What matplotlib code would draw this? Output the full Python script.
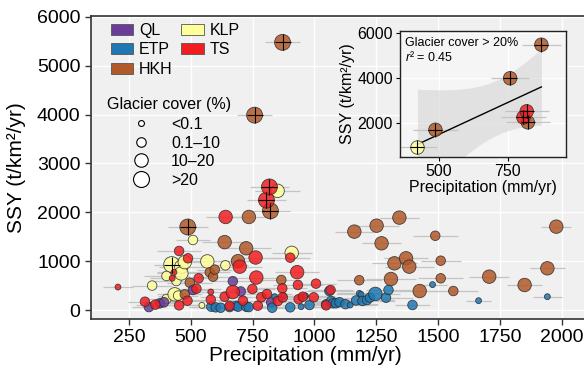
import numpy as np
import matplotlib
matplotlib.use("Agg")
import matplotlib.pyplot as plt
from matplotlib.patches import Patch
from matplotlib.lines import Line2D

plt.rcParams['font.family'] = ['Liberation Sans', 'DejaVu Sans']
plt.rcParams['mathtext.fontset'] = 'custom'
plt.rcParams['mathtext.rm'] = 'Liberation Sans'
plt.rcParams['mathtext.it'] = 'Liberation Sans:italic'

# glacier cover class: 0 <0.1, 1 0.1-10, 2 10-20, 3 >20
ql_precip = [331, 375, 392, 509, 670, 702, 825]
ql_ssy = [60, 137, 160, 410, 590, 380, 158]
ql_cover = [1, 1, 1, 1, 1, 1, 1]
ql_err = [70, 60, 80, 60, 90, 70, 60]

etp_precip = [583, 601, 621, 657, 684, 691, 724, 734, 829, 839, 875, 902, 946, 950, 964,
              980, 1047, 1060, 1067, 1074, 1087, 1101, 1125, 1144, 1168, 1181, 1188, 1194,
              1212, 1224, 1246, 1289, 1299, 1396, 1477, 1663, 1941]
etp_ssy = [68, 55, 47, 60, 88, 68, 68, 60, 47, 273, 290, 55, 68, 273, 287,
           102, 117, 389, 184, 137, 137, 160, 120, 102, 195, 342, 321, 185,
           205, 255, 330, 252, 410, 102, 520, 191, 273]
etp_cover = [1, 1, 1, 1, 1, 1, 1, 1, 1, 0, 0, 1, 0, 0, 0,
             1, 1, 1, 1, 1, 1, 1, 1, 0, 1, 0, 0, 1,
             1, 1, 2, 1, 1, 1, 0, 0, 0]
etp_err = [90, 100, 80, 110, 90, 100, 120, 90, 100, 80, 90, 110, 100, 90, 120,
           110, 120, 100, 130, 110, 120, 100, 130, 110, 120, 90, 100, 130,
           110, 120, 100, 110, 90, 70, 60, 50, 60]

ts_precip = [206, 315, 357, 425, 432, 453, 453, 487, 489, 523, 532, 581, 581, 637, 641,
             657, 670, 698, 711, 749, 762, 765, 771, 785, 806, 808, 818, 852, 870, 872,
             902, 930, 933, 936, 953, 997, 1006, 1047, 1065]
ts_ssy = [470, 170, 110, 650, 772, 1209, 95, 190, 1059, 437, 649, 212, 370, 273, 1905,
          85, 368, 888, 191, 430, 1075, 665, 88, 262, 2250, 328, 2520, 184, 444, 260,
          1072, 775, 512, 222, 273, 260, 540, 95, 410]
ts_cover = [0, 1, 1, 0, 0, 1, 1, 1, 1, 1, 1, 1, 0, 1, 2,
            1, 2, 2, 1, 1, 2, 2, 1, 1, 3, 1, 3, 1, 1, 1,
            1, 2, 1, 1, 1, 1, 1, 1, 1]
ts_err = [60, 70, 80, 90, 70, 90, 80, 70, 90, 100, 80, 90, 70, 100, 80,
          90, 100, 90, 100, 90, 100, 90, 80, 90, 80, 100, 80, 90, 100, 90,
          80, 90, 100, 90, 100, 90, 80, 100, 90]

hkh_precip = [488, 758, 871, 822, 476, 496, 577, 590, 597, 637, 691, 724, 735, 866, 1161,
              1181, 1251, 1271, 1309, 1323, 1343, 1370, 1383, 1425, 1488, 1510, 1510, 1561,
              1706, 1849, 1941, 1977]
hkh_ssy = [1700, 3990, 5480, 2030, 321, 560, 772, 683, 827, 1390, 1000, 1264, 1905, 615, 1605,
           610, 1727, 1366, 635, 956, 1892, 1059, 888, 389, 1520, 1010, 649, 389,
           683, 512, 854, 1707]
hkh_cover = [3, 3, 3, 3, 1, 1, 1, 1, 1, 2, 2, 2, 2, 1, 2,
             1, 2, 2, 2, 2, 2, 2, 2, 2, 1, 1, 1, 1,
             2, 2, 2, 2]
hkh_err = [80, 70, 70, 80, 70, 90, 80, 90, 70, 90, 80, 100, 90, 80, 80,
           90, 90, 80, 100, 90, 80, 90, 100, 110, 90, 80, 90, 100,
           80, 70, 70, 60]

klp_precip = [423, 344, 402, 402, 435, 442, 449, 462, 462, 476, 509, 545, 567, 640, 851, 908]
klp_ssy = [930, 500, 697, 225, 321, 594, 295, 888, 750, 980, 1434, 95, 995, 915, 2440, 1170]
klp_cover = [3, 1, 1, 1, 2, 1, 1, 2, 2, 2, 1, 0, 2, 1, 2, 2]
klp_err = [70, 80, 90, 80, 70, 90, 80, 90, 100, 80, 70, 60, 80, 90, 90, 80]

region_names = ['QL', 'ETP', 'HKH', 'KLP', 'TS']
region_colors = {'QL': '#6a3d9a', 'ETP': '#1f78b4', 'HKH': '#b15928',
                 'KLP': '#ffff99', 'TS': '#f21d21'}
cover_labels = ['<0.1', '0.1\u201310', '10\u201320', '>20']

regions = {
    'QL': (ql_precip, ql_ssy, ql_cover, ql_err),
    'ETP': (etp_precip, etp_ssy, etp_cover, etp_err),
    'HKH': (hkh_precip, hkh_ssy, hkh_cover, hkh_err),
    'KLP': (klp_precip, klp_ssy, klp_cover, klp_err),
    'TS': (ts_precip, ts_ssy, ts_cover, ts_err),
}
draw_order = ['KLP', 'HKH', 'QL', 'ETP', 'TS']

sizes_main = np.array([18, 47, 94, 132])
sizes_inset = np.array([14, 36, 70, 95])
panel_bg = '#f0f0f0'
err_col = '#c4c4c4'


def draw_points(a, sizes, only_big=False):
    for name in draw_order:
        p, s, g, e = [np.array(v) for v in regions[name]]
        if only_big:
            m = g == 3
            p, s, g, e = p[m], s[m], g[m], e[m]
        if len(p) == 0:
            continue
        a.errorbar(p, s, xerr=e, fmt='none', ecolor=err_col, elinewidth=0.9, capsize=0, zorder=1)
    for name in draw_order:
        p, s, g, e = [np.array(v) for v in regions[name]]
        if only_big:
            m = g == 3
            p, s, g = p[m], s[m], g[m]
        if len(p) == 0:
            continue
        a.scatter(p, s, s=sizes[g], c=region_colors[name], alpha=0.85,
                  edgecolors='#2b2b2b', linewidths=0.6, zorder=3)
        big = g == 3
        a.scatter(p[big], s[big], s=sizes[3], marker='+', c='k', linewidths=0.8, zorder=4)


fig = plt.figure(figsize=(5.84, 3.75), dpi=100)
ax = fig.add_axes([91 / 584, 1 - 319 / 375, 1 - 91 / 584, 303 / 375])
ax.set_facecolor(panel_bg)
ax.grid(True, color='white', lw=1.0, zorder=0)
ax.set_axisbelow(True)

draw_points(ax, sizes_main)

ax.set_xlim(97, 2089)
ax.set_ylim(-184, 6020)
ax.set_xticks([250, 500, 750, 1000, 1250, 1500, 1750, 2000])
ax.set_yticks([0, 1000, 2000, 3000, 4000, 5000, 6000])
ax.tick_params(labelsize=14, length=4, width=1, color='#333333', labelcolor='black')
for sp in ax.spines.values():
    sp.set_color('#333333')
    sp.set_linewidth(1.2)
ax.spines['right'].set_visible(False)
ax.set_xlabel('Precipitation (mm/yr)', fontsize=15)
ax.set_ylabel('SSY (t/km\u00b2/yr)', fontsize=15)
ax.xaxis.set_label_coords((305 - 91) / 493, -0.088)
ax.yaxis.set_label_coords((26 - 91) / 493, 0.5)

# legend for regions
patches = [Patch(facecolor=region_colors[n], edgecolor='#555555', lw=0.6, label=n)
           for n in region_names]
leg1 = ax.legend(handles=patches, ncol=2, loc='upper left',
                 bbox_to_anchor=(111 / 584, 1 - 23 / 375), bbox_transform=fig.transFigure,
                 frameon=False, fontsize=11.5, handlelength=1.4, handleheight=0.7,
                 handletextpad=0.35, columnspacing=0.55, labelspacing=0.28,
                 borderpad=0, borderaxespad=0)
ax.add_artist(leg1)

# legend for glacier cover
fig.text(107 / 584, 1 - 105 / 375, 'Glacier cover (%)', fontsize=11.5, va='center', ha='left')
diam_pt = np.sqrt(sizes_main)
circles = [Line2D([], [], ls='none', marker='o', markersize=d, markerfacecolor='white',
                  markeredgecolor='black', markeredgewidth=0.8, label=l)
           for d, l in zip(diam_pt, cover_labels)]
leg2 = ax.legend(handles=circles, loc='upper left',
                 bbox_to_anchor=(128 / 584, 1 - 117 / 375), bbox_transform=fig.transFigure,
                 frameon=False, fontsize=11.5, handlelength=1.6, handletextpad=1.1,
                 labelspacing=0.22, borderpad=0, borderaxespad=0)

# inset: glacier cover > 20 %
ins = fig.add_axes([400 / 584, 1 - 157 / 375, 166 / 584, 126 / 375])
ins.set_facecolor('#f5f5f5')
ins.grid(True, color='white', lw=1.0, zorder=0)
ins.set_axisbelow(True)

bx, by = [], []
for name in region_names:
    p, s, g, e = [np.array(v) for v in regions[name]]
    bx += list(p[g == 3])
    by += list(s[g == 3])
bx = np.array(bx, float)
by = np.array(by, float)
slope, icpt = np.polyfit(bx, by, 1)
xx = np.linspace(bx.min(), bx.max(), 80)
yy = slope * xx + icpt
n = len(bx)
resid = by - (slope * bx + icpt)
sres = np.sqrt(np.sum(resid ** 2) / (n - 2))
sxx = np.sum((bx - bx.mean()) ** 2)
tval = 2.571  # t(0.975, df=5)
half = tval * sres * np.sqrt(1 / n + (xx - bx.mean()) ** 2 / sxx)
ins.fill_between(xx, yy - half, yy + half, color='#d4d4d4', alpha=0.6, lw=0, zorder=1)
ins.plot(xx, yy, color='black', lw=1.0, zorder=2)

draw_points(ins, sizes_inset, only_big=True)

ins.set_xlim(360, 960)
ins.set_ylim(490, 6090)
ins.set_xticks([500, 750])
ins.set_yticks([2000, 4000, 6000])
ins.tick_params(labelsize=11.5, length=3, width=0.8, pad=2)
for sp in ins.spines.values():
    sp.set_color('#222222')
    sp.set_linewidth(1.0)
ins.set_xlabel('Precipitation (mm/yr)', fontsize=11.5, labelpad=1)
ins.set_ylabel('SSY (t/km\u00b2/yr)', fontsize=11.5, labelpad=2)
ins.text(0.03, 0.95, 'Glacier cover > 20%\n$\\it{r}$\u00b2 = 0.45', transform=ins.transAxes,
         fontsize=9, va='top', ha='left', linespacing=1.1)

fig.savefig('out.png', dpi=100)
